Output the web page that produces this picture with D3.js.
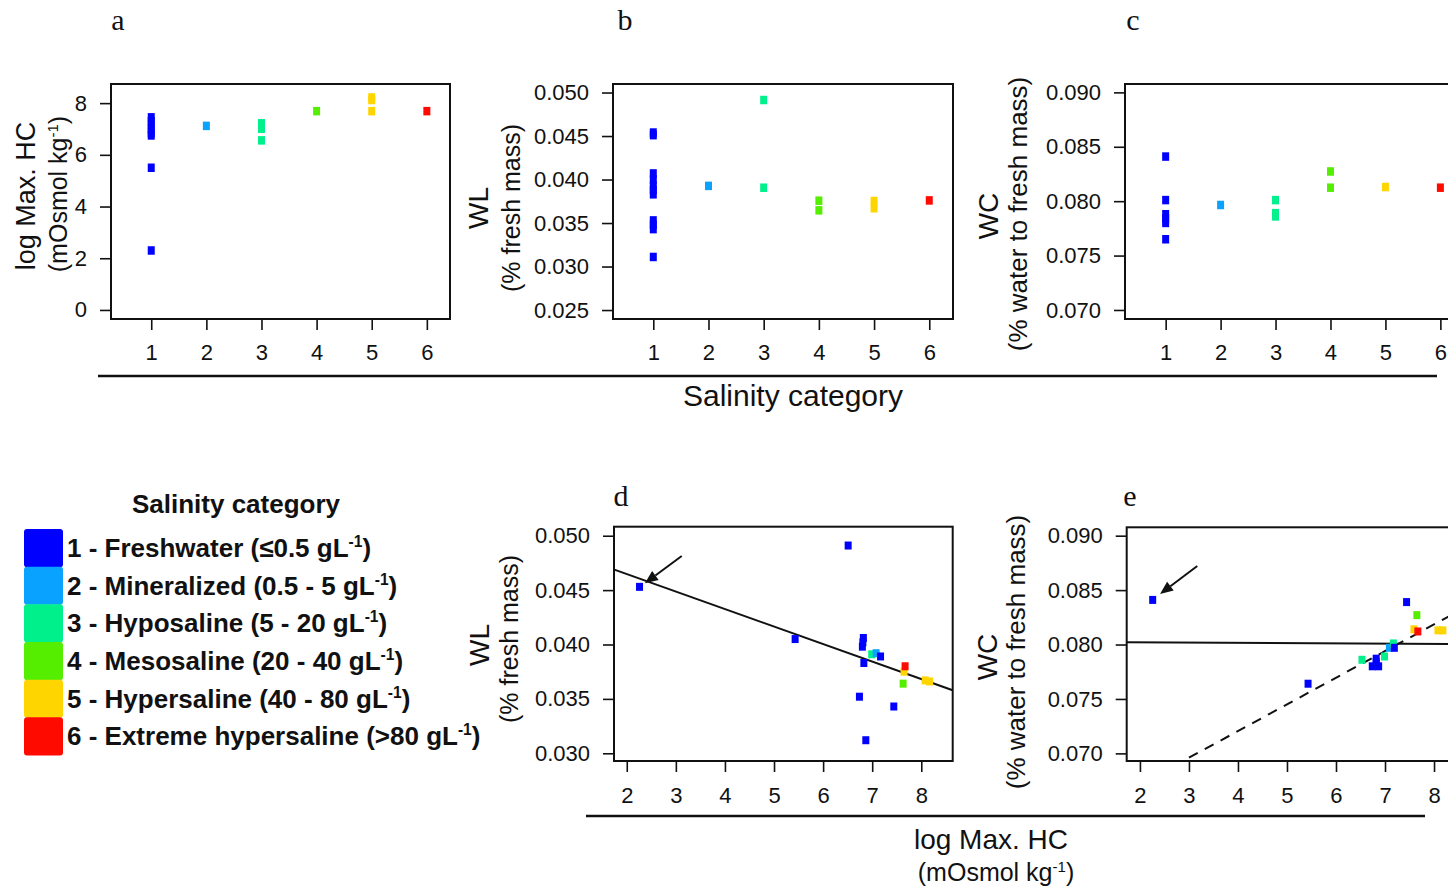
<!DOCTYPE html>
<html><head><meta charset="utf-8">
<script src="https://cdn.jsdelivr.net/npm/d3@7"></script>
<style>body{margin:0;background:#fff}svg{display:block}</style>
</head><body>
<svg id="chart" width="1448" height="888"></svg>
<script>
// ---------- data ----------
const categoryIds = [1, 2, 3, 4, 5, 6];
const categoryNames = ["1 - Freshwater (≤0.5 gL", "2 - Mineralized (0.5 - 5 gL", "3 - Hyposaline (5 - 20 gL",
  "4 - Mesosaline (20 - 40 gL", "5 - Hypersaline (40 - 80 gL", "6 - Extreme hypersaline (>80 gL"];
const categoryColors = ["#0000ff", "#0aa2ff", "#00f08c", "#55ee00", "#ffd500", "#ff0a00"];

// panel a: log Max. HC by salinity category
const hcCat = [1,1,1,1,1,1,1,1, 2, 3,3,3, 4, 5,5,5, 6];
const hcVal = [7.45,7.3,7.15,7.0,6.85,6.75,5.5,2.3, 7.12, 7.22,7.01,6.56, 7.69, 8.22,8.12,7.69, 7.69];
// panel b: WL by salinity category
const wlCat = [1,1,1,1,1,1,1,1,1,1,1, 2, 3,3, 4,4, 5,5, 6];
const wlVal = [0.0454,0.0451,0.0407,0.0400,0.0393,0.0388,0.0383,0.0353,0.0348,0.0343,0.0311, 0.03927, 0.04914,0.03906, 0.03757,0.03646, 0.03753,0.0367, 0.0376];
// panel c: WC by salinity category
const wcCat = [1,1,1,1,1,1, 2, 3,3,3, 4,4, 5, 6];
const wcVal = [0.0841,0.0801,0.0788,0.0784,0.0780,0.0765, 0.07965, 0.0801,0.0789,0.0786, 0.08273,0.08124, 0.0813, 0.08124];
// panel d: WL vs log Max. HC
const dHC  = [2.26,6.51,5.43,6.82,6.81,6.80,6.83,6.74,7.44,6.87,6.99,7.08,7.17,7.65,7.67,7.63,8.08,8.17];
const dWL  = [0.0453,0.0491,0.0405,0.0406,0.0402,0.0398,0.0383,0.0352,0.0343,0.0312,0.0391,0.0392,0.0389,0.0375,0.0380,0.0364,0.0367,0.0366];
const dCat = [1,1,1,1,1,1,1,1,1,1,3,2,1,5,6,4,5,5];
// panel e: WC vs log Max. HC
const eHC  = [2.26,5.43,7.44,6.53,6.99,6.74,6.87,6.82,6.82,7.09,7.17,7.19,7.65,7.59,7.67,8.08,8.18];
const eWC  = [0.0841,0.0764,0.0839,0.0786,0.0789,0.0780,0.0780,0.0784,0.0787,0.0797,0.0801,0.0797,0.0827,0.0814,0.0812,0.0813,0.0813];
const eCat = [1,1,1,3,3,1,1,1,1,2,3,1,4,5,6,5,5];
// fitted lines [intercept, slope, xStart, xEnd]
const dFit = [0.0497, -0.00161, 1.5, 9];
const eFitSolid = [0.08025, -0.000024, 1.5, 9];
const eFitDashed = [0.06225, 0.00245, 3.0, 9];
// arrows [x0, y0, x1, y1] in data units
const dArrow = [3.12, 0.04813, 2.37, 0.04563];
const eArrow = [3.17, 0.08722, 2.41, 0.08464];
// ticks
const catTicks = [1, 2, 3, 4, 5, 6];
const hcTicks = [0, 2, 4, 6, 8];
const hcXTicks = [2, 3, 4, 5, 6, 7, 8];
const wlTicks = [0.025, 0.030, 0.035, 0.040, 0.045, 0.050];
const wlTicks2 = [0.030, 0.035, 0.040, 0.045, 0.050];
const wcTicks = [0.070, 0.075, 0.080, 0.085, 0.090];

// ---------- drawing ----------
const svg = d3.select("#chart");
const FONT = "'Liberation Sans', Arial, Helvetica, sans-serif";
const color = d3.scaleOrdinal().domain(categoryIds).range(categoryColors);
svg.append("rect").attr("width", 1448).attr("height", 888).attr("fill", "#fff");

let clipN = 0;
function panel(cfg) {
  const x = d3.scaleLinear().domain(cfg.xDomain).range(cfg.xRange);
  const y = d3.scaleLinear().domain(cfg.yDomain).range(cfg.yRange);
  const g = svg.append("g");
  const id = "clip" + (clipN++);
  g.append("clipPath").attr("id", id).append("rect")
    .attr("x", cfg.xRange[0]).attr("y", cfg.yRange[1])
    .attr("width", cfg.xRange[1] - cfg.xRange[0]).attr("height", cfg.yRange[0] - cfg.yRange[1]);

  const yAx = g.append("g").attr("transform", `translate(${cfg.xRange[0]},0)`)
    .call(d3.axisLeft(y).tickValues(cfg.yTicks).tickSize(11).tickPadding(13).tickFormat(cfg.yFmt));
  const xAx = g.append("g").attr("transform", `translate(0,${cfg.yRange[0]})`)
    .call(d3.axisBottom(x).tickValues(cfg.xTicks).tickSize(11).tickFormat(cfg.xFmt));
  [yAx, xAx].forEach(a => {
    a.select(".domain").remove();
    a.selectAll("line").attr("stroke", "#111").attr("stroke-width", 1.6);
    a.selectAll("text").attr("font-family", FONT).attr("font-size", 22).attr("fill", "#111");
  });
  xAx.selectAll("text").attr("y", cfg.xLabelDy).attr("dy", null);

  const inner = g.append("g").attr("clip-path", `url(#${id})`);
  if (cfg.fits) cfg.fits.forEach(f => {
    inner.append("line")
      .attr("x1", x(f[2])).attr("y1", y(f[0] + f[1] * f[2]))
      .attr("x2", x(f[3])).attr("y2", y(f[0] + f[1] * f[3]))
      .attr("stroke", "#111").attr("stroke-width", 2)
      .attr("stroke-dasharray", f.dashed ? "10,8" : null);
  });
  const pts = cfg.xs.map((v, i) => ({ x: v, y: cfg.ys[i], c: cfg.cats[i] }));
  inner.selectAll("rect.pt").data(pts).enter().append("rect").attr("class", "pt")
    .attr("x", d => x(d.x) - 3.5).attr("y", d => y(d.y) - cfg.mh / 2)
    .attr("width", 7).attr("height", cfg.mh)
    .attr("fill", d => color(d.c));
  if (cfg.arrow) {
    const a = cfg.arrow;
    const x0 = x(a[0]), y0 = y(a[1]), x1 = x(a[2]), y1 = y(a[3]);
    const ang = Math.atan2(y1 - y0, x1 - x0), L = 13, W = 5.5;
    const bx = x1 - L * Math.cos(ang), by = y1 - L * Math.sin(ang);
    g.append("line").attr("x1", x0).attr("y1", y0).attr("x2", bx).attr("y2", by)
      .attr("stroke", "#111").attr("stroke-width", 2);
    g.append("path").attr("fill", "#111")
      .attr("d", `M${x1},${y1}L${bx + W * Math.sin(ang)},${by - W * Math.cos(ang)}L${bx - W * Math.sin(ang)},${by + W * Math.cos(ang)}Z`);
  }
  g.append("rect").attr("x", cfg.xRange[0]).attr("y", cfg.yRange[1])
    .attr("width", cfg.xRange[1] - cfg.xRange[0]).attr("height", cfg.yRange[0] - cfg.yRange[1])
    .attr("fill", "none").attr("stroke", "#111").attr("stroke-width", 2);
  return { x, y, g };
}

const f3 = d3.format(".3f"), fi = d3.format("d");
panel({ xDomain: [0.27, 6.42], xRange: [111, 450], yDomain: [-0.35, 8.74], yRange: [319, 84],
  yTicks: hcTicks, xTicks: catTicks, yFmt: fi, xFmt: fi, xLabelDy: 41, mh: 8.5,
  xs: hcCat, ys: hcVal, cats: hcCat });
panel({ xDomain: [0.27, 6.43], xRange: [613, 953], yDomain: [0.02397, 0.05098], yRange: [319, 84],
  yTicks: wlTicks, xTicks: catTicks, yFmt: f3, xFmt: fi, xLabelDy: 41, mh: 8.5,
  xs: wlCat, ys: wlVal, cats: wlCat });
panel({ xDomain: [0.26, 6.43], xRange: [1125, 1464], yDomain: [0.06917, 0.09077], yRange: [319, 84],
  yTicks: wcTicks, xTicks: catTicks, yFmt: f3, xFmt: fi, xLabelDy: 41, mh: 8.5,
  xs: wcCat, ys: wcVal, cats: wcCat });
panel({ xDomain: [1.74, 8.64], xRange: [614, 952.7], yDomain: [0.02929, 0.05083], yRange: [761, 526.7],
  yTicks: wlTicks2, xTicks: hcXTicks, yFmt: f3, xFmt: fi, xLabelDy: 42, mh: 8,
  xs: dHC, ys: dWL, cats: dCat, fits: [dFit], arrow: dArrow });
const dashed = eFitDashed.slice(); dashed.dashed = true;
panel({ xDomain: [1.73, 8.64], xRange: [1126.7, 1465.4], yDomain: [0.0693, 0.09077], yRange: [761, 527.3],
  yTicks: wcTicks, xTicks: hcXTicks, yFmt: f3, xFmt: fi, xLabelDy: 42, mh: 8,
  xs: eHC, ys: eWC, cats: eCat, fits: [eFitSolid, dashed], arrow: eArrow });

// ---------- text ----------
function txt(x, y, s, size, opts = {}) {
  const t = svg.append("text").attr("x", x).attr("y", y)
    .attr("font-family", opts.family || FONT).attr("font-size", size)
    .attr("font-weight", opts.bold ? "bold" : null)
    .attr("text-anchor", opts.anchor || "middle").attr("fill", "#111");
  if (opts.rotate) t.attr("transform", `rotate(-90,${x},${y})`);
  if (opts.sup) {
    t.append("tspan").text(s);
    t.append("tspan").attr("font-size", size * 0.6).attr("dy", -size * 0.38).text("-1");
    t.append("tspan").attr("dy", size * 0.38).text(opts.after || ")");
  } else t.text(s);
  return t;
}
const SERIF = "'Liberation Serif', 'Times New Roman', serif";
[["a", 118, 30], ["b", 625, 30], ["c", 1133, 30], ["d", 621, 506], ["e", 1130, 506]]
  .forEach(p => txt(p[1], p[2], p[0], 30, { family: SERIF }));

// y-axis titles
txt(35, 196, "log Max. HC", 27, { rotate: true });
txt(67, 194, "(mOsmol kg", 25, { rotate: true, sup: true });
txt(488, 208, "WL", 28, { rotate: true });
txt(520, 208, "(% fresh mass)", 25, { rotate: true });
txt(998, 216, "WC", 28, { rotate: true });
txt(1027, 214, "(% water to fresh mass)", 26, { rotate: true });
txt(489, 645, "WL", 28, { rotate: true });
txt(518, 639, "(% fresh mass)", 25, { rotate: true });
txt(997, 657, "WC", 28, { rotate: true });
txt(1025, 652, "(% water to fresh mass)", 26, { rotate: true });

// shared x titles and separator lines
svg.append("line").attr("x1", 98).attr("x2", 1437).attr("y1", 376).attr("y2", 376)
  .attr("stroke", "#111").attr("stroke-width", 2.5);
txt(793, 406, "Salinity category", 30);
svg.append("line").attr("x1", 586).attr("x2", 1425).attr("y1", 816).attr("y2", 816)
  .attr("stroke", "#111").attr("stroke-width", 2.5);
txt(991, 849, "log Max. HC", 28);
txt(996, 881, "(mOsmol kg", 25, { sup: true });

// legend
txt(236, 513, "Salinity category", 26, { bold: true });
const legY = d3.scaleBand().domain(categoryIds).range([529, 755]);
const leg = svg.append("g");
leg.selectAll("rect").data(categoryIds).enter().append("rect")
  .attr("x", 24).attr("y", d => legY(d)).attr("width", 39).attr("height", legY.bandwidth() + 0.5)
  .attr("rx", 3).attr("fill", d => color(d));
categoryIds.forEach((d, i) => {
  txt(67, legY(d) + legY.bandwidth() / 2 + 9, categoryNames[i], 26, { bold: true, anchor: "start", sup: true });
});
</script>
</body></html>
